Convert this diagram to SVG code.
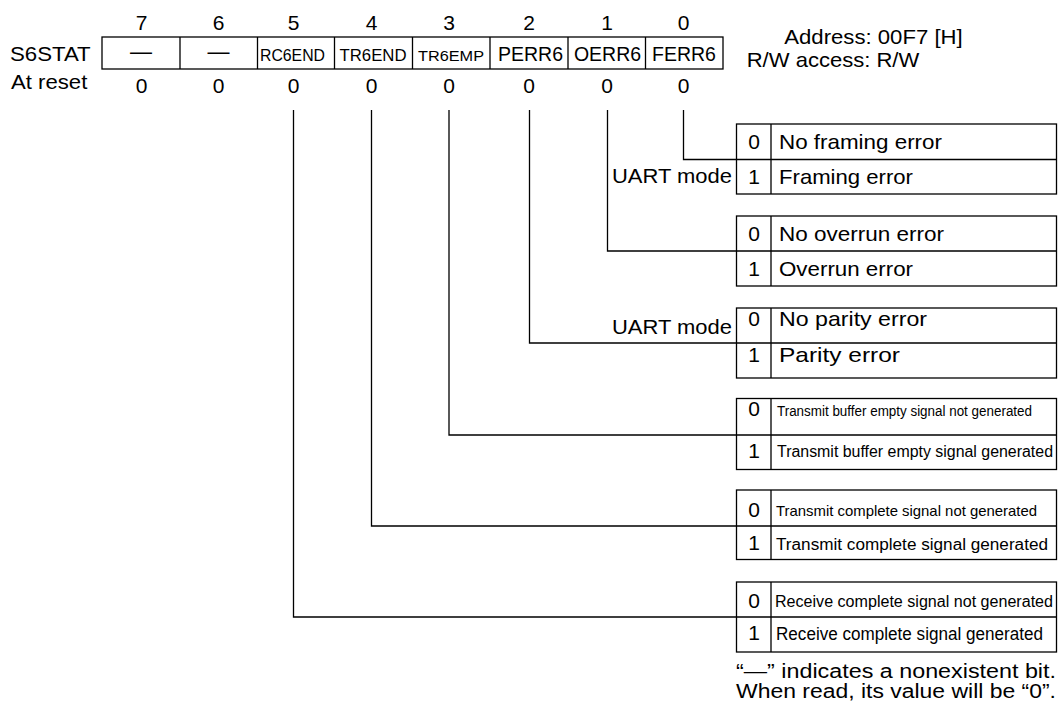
<svg xmlns="http://www.w3.org/2000/svg" width="1058" height="706" viewBox="0 0 1058 706">
<style>
text{font-family:"Liberation Sans",Arial,sans-serif;fill:#000}
.t{font-size:21px}
.c{text-anchor:middle}
.e{text-anchor:end}
.box{fill:none;stroke:#000;stroke-width:1.3}
.ln{fill:none;stroke:#000;stroke-width:1.3}
</style>
<rect width="1058" height="706" fill="#fff"/>
<g id="register">
<text class="t c" x="141.5" y="30">7</text>
<text class="t c" x="218.5" y="30">6</text>
<text class="t c" x="293.5" y="30">5</text>
<text class="t c" x="371.5" y="30">4</text>
<text class="t c" x="449" y="30">3</text>
<text class="t c" x="529" y="30">2</text>
<text class="t c" x="607" y="30">1</text>
<text class="t c" x="683.5" y="30">0</text>
<text class="t" x="10" y="61" textLength="80.7" lengthAdjust="spacingAndGlyphs">S6STAT</text>
<text class="t" x="11" y="89" textLength="76.3" lengthAdjust="spacingAndGlyphs">At reset</text>
<rect class="box" x="102" y="37" width="621" height="32"/>
<path class="ln" d="M180 37V69M257.5 37V69M334.5 37V69M412.5 37V69M490 37V69M568 37V69M645.5 37V69"/>
<text class="c" x="141" y="59" style="font-size:22px">—</text>
<text class="c" x="218.5" y="59" style="font-size:22px">—</text>
<text class="c" x="292.5" y="61" style="font-size:16px" textLength="65" lengthAdjust="spacingAndGlyphs">RC6END</text>
<text class="c" x="373" y="61" style="font-size:16px" textLength="67" lengthAdjust="spacingAndGlyphs">TR6END</text>
<text class="c" x="451" y="61" style="font-size:15.5px" textLength="66" lengthAdjust="spacingAndGlyphs">TR6EMP</text>
<text class="c" x="530.5" y="61" style="font-size:19.5px">PERR6</text>
<text class="c" x="607.5" y="61" style="font-size:19.5px">OERR6</text>
<text class="c" x="684" y="61" style="font-size:19.5px">FERR6</text>
<text class="t c" x="141.5" y="92.7">0</text>
<text class="t c" x="218.5" y="92.7">0</text>
<text class="t c" x="293.5" y="92.7">0</text>
<text class="t c" x="371.5" y="92.7">0</text>
<text class="t c" x="449" y="92.7">0</text>
<text class="t c" x="529" y="92.7">0</text>
<text class="t c" x="607" y="92.7">0</text>
<text class="t c" x="683.5" y="92.7">0</text>
</g>
<g id="address">
<text class="t" x="784.3" y="44" textLength="178.4" lengthAdjust="spacingAndGlyphs">Address: 00F7 [H]</text>
<text class="t" x="746.7" y="67" textLength="172.6" lengthAdjust="spacingAndGlyphs">R/W access: R/W</text>
</g>
<g id="connectors">
<path class="ln" d="M683.5 110V159.5H736.5"/>
<path class="ln" d="M607.5 110V251H736.5"/>
<path class="ln" d="M529.5 110V343H736.5"/>
<path class="ln" d="M449 110V435H736.5"/>
<path class="ln" d="M371.5 110V526H736.5"/>
<path class="ln" d="M293.5 110V617H736.5"/>
</g>
<g id="ferr6-table">
<rect class="box" x="736.5" y="124" width="320" height="70"/>
<path class="ln" d="M736.5 159.5H1056.5M771 124V194"/>
<text class="t c" x="754" y="149">0</text>
<text class="t" x="779" y="149" textLength="163" lengthAdjust="spacingAndGlyphs">No framing error</text>
<text class="t c" x="754" y="184">1</text>
<text class="t" x="779" y="184" textLength="134" lengthAdjust="spacingAndGlyphs">Framing error</text>
<text class="t e" x="732" y="183" textLength="120" lengthAdjust="spacingAndGlyphs">UART mode</text>
</g>
<g id="oerr6-table">
<rect class="box" x="736.5" y="216" width="320" height="70"/>
<path class="ln" d="M736.5 251H1056.5M771 216V286"/>
<text class="t c" x="754" y="240.5">0</text>
<text class="t" x="779" y="240.5" textLength="165" lengthAdjust="spacingAndGlyphs">No overrun error</text>
<text class="t c" x="754" y="276">1</text>
<text class="t" x="779" y="276" textLength="134" lengthAdjust="spacingAndGlyphs">Overrun error</text>
</g>
<g id="perr6-table">
<rect class="box" x="736.5" y="308" width="320" height="70"/>
<path class="ln" d="M736.5 343H1056.5M771 308V378"/>
<text class="t c" x="754" y="326">0</text>
<text class="t" x="779" y="326" textLength="148" lengthAdjust="spacingAndGlyphs">No parity error</text>
<text class="t c" x="754" y="361.5">1</text>
<text class="t" x="779" y="361.5" textLength="121" lengthAdjust="spacingAndGlyphs">Parity error</text>
<text class="t e" x="732" y="333.5" textLength="120" lengthAdjust="spacingAndGlyphs">UART mode</text>
</g>
<g id="tr6emp-table">
<rect class="box" x="736.5" y="398.5" width="320" height="71"/>
<path class="ln" d="M736.5 435H1056.5M771 398.5V469.5"/>
<text class="t c" x="754" y="416">0</text>
<text x="777" y="415.5" style="font-size:14px" textLength="255" lengthAdjust="spacingAndGlyphs">Transmit buffer empty signal not generated</text>
<text class="t c" x="754" y="458">1</text>
<text x="777" y="456.5" style="font-size:16px" textLength="276" lengthAdjust="spacingAndGlyphs">Transmit buffer empty signal generated</text>
</g>
<g id="tr6end-table">
<rect class="box" x="736.5" y="490" width="320" height="69.5"/>
<path class="ln" d="M736.5 526H1056.5M771 490V559.5"/>
<text class="t c" x="754" y="516.5">0</text>
<text x="776" y="516" style="font-size:15px" textLength="261" lengthAdjust="spacingAndGlyphs">Transmit complete signal not generated</text>
<text class="t c" x="754" y="550">1</text>
<text x="776" y="550" style="font-size:17.3px" textLength="272" lengthAdjust="spacingAndGlyphs">Transmit complete signal generated</text>
</g>
<g id="rc6end-table">
<rect class="box" x="736.5" y="582" width="320" height="70"/>
<path class="ln" d="M736.5 617H1056.5M771 582V652"/>
<text class="t c" x="754" y="608">0</text>
<text x="775" y="607" style="font-size:16px" textLength="278" lengthAdjust="spacingAndGlyphs">Receive complete signal not generated</text>
<text class="t c" x="754" y="640">1</text>
<text x="776" y="640" style="font-size:17.5px" textLength="267" lengthAdjust="spacingAndGlyphs">Receive complete signal generated</text>
</g>
<g id="note">
<text x="736" y="678" style="font-size:20px" textLength="320" lengthAdjust="spacingAndGlyphs">“—” indicates a nonexistent bit.</text>
<text x="736" y="698" style="font-size:20px" textLength="320" lengthAdjust="spacingAndGlyphs">When read, its value will be “0”.</text>
</g>
</svg>
